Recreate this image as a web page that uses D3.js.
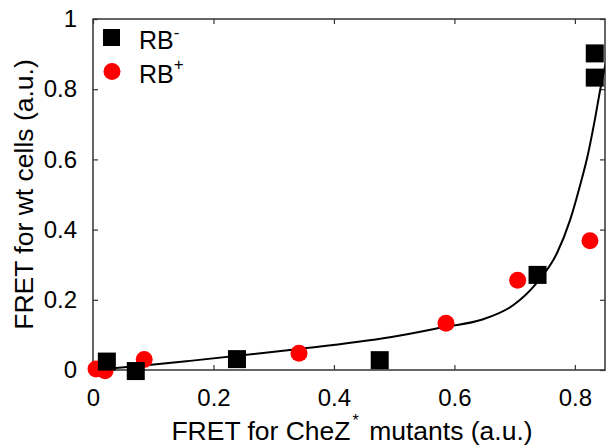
<!DOCTYPE html>
<html>
<head>
<meta charset="utf-8">
<script src="https://cdn.jsdelivr.net/npm/d3@7"></script>
<style>
  html, body { margin: 0; padding: 0; background: #fff; }
  svg { display: block; font-family: "Liberation Sans", Arial, sans-serif; }
</style>
</head>
<body>
<svg id="chart" width="606" height="446"></svg>
<script>
// RB- cells (black squares): FRET for CheZ* mutants vs FRET for wt cells
const rbMinusX = [0.023, 0.071, 0.239, 0.476, 0.738, 0.833, 0.833];
const rbMinusY = [0.024, -0.003, 0.031, 0.028, 0.271, 0.902, 0.833];

// RB+ cells (red circles)
const rbPlusX = [0.005, 0.020, 0.085, 0.342, 0.586, 0.705, 0.825];
const rbPlusY = [0.003, -0.002, 0.030, 0.048, 0.133, 0.256, 0.368];

// Fitted curve, sampled along its length
const fitX = [0.000, 0.080, 0.161, 0.327, 0.493, 0.585, 0.645, 0.698, 0.736, 0.770, 0.792, 0.808, 0.822, 0.833, 0.843, 0.852];
const fitY = [0.000, 0.012, 0.026, 0.057, 0.093, 0.123, 0.143, 0.185, 0.247, 0.332, 0.427, 0.522, 0.617, 0.712, 0.807, 0.880];

const xTicks = [0, 0.2, 0.4, 0.6, 0.8];
const yTicks = [0, 0.2, 0.4, 0.6, 0.8, 1];
const xTickLabels = ["0", "0.2", "0.4", "0.6", "0.8"];
const yTickLabels = ["0", "0.2", "0.4", "0.6", "0.8", "1"];

const margin = { left: 93, right: 1, top: 19, bottom: 76 };
const W = 606, H = 446;
const svg = d3.select("#chart");

const x = d3.scaleLinear().domain([0, 0.85]).range([margin.left, W - margin.right]);
const y = d3.scaleLinear().domain([0, 1]).range([H - margin.bottom, margin.top]);

const fontSize = 24;
const legendSize = 25;
const titleSize = 26.5;
const tickLen = 5;
const frameColor = "#333";

// clip region for the plot area
svg.append("defs").append("clipPath").attr("id", "plotClip")
  .append("rect")
  .attr("x", x(0)).attr("y", y(1))
  .attr("width", x(0.85) - x(0)).attr("height", y(0) - y(1));

// Axes: inward ticks on all four sides
const axisB = svg.append("g")
  .attr("transform", `translate(0,${y(0)})`)
  .call(d3.axisBottom(x).tickValues(xTicks)
    .tickFormat((d, i) => xTickLabels[i])
    .tickSizeInner(-tickLen).tickSizeOuter(0).tickPadding(19));
const axisT = svg.append("g")
  .attr("transform", `translate(0,${y(1)})`)
  .call(d3.axisTop(x).tickValues(xTicks).tickFormat("")
    .tickSizeInner(-tickLen).tickSizeOuter(0));
const axisL = svg.append("g")
  .attr("transform", `translate(${x(0)},0)`)
  .call(d3.axisLeft(y).tickValues(yTicks)
    .tickFormat((d, i) => yTickLabels[i])
    .tickSizeInner(-tickLen).tickSizeOuter(0).tickPadding(16));
const axisR = svg.append("g")
  .attr("transform", `translate(${x(0.85)},0)`)
  .call(d3.axisRight(y).tickValues(yTicks).tickFormat("")
    .tickSizeInner(-tickLen).tickSizeOuter(0));

[axisB, axisT, axisL, axisR].forEach(g => {
  g.select(".domain").remove();
  g.selectAll(".tick line").attr("stroke", frameColor).attr("stroke-width", 1.2);
  g.selectAll("text")
    .attr("font-family", '"Liberation Sans", Arial, sans-serif')
    .attr("font-size", fontSize).attr("fill", "#000");
});

// Plot frame
svg.append("rect")
  .attr("x", x(0)).attr("y", y(1))
  .attr("width", x(0.85) - x(0)).attr("height", y(0) - y(1))
  .attr("fill", "none").attr("stroke", frameColor).attr("stroke-width", 1.5);

// Fitted curve
const fitData = fitX.map((v, i) => [v, fitY[i]]);
svg.append("path")
  .datum(fitData)
  .attr("clip-path", "url(#plotClip)")
  .attr("fill", "none").attr("stroke", "#000").attr("stroke-width", 2)
  .attr("d", d3.line().x(d => x(d[0])).y(d => y(d[1])).curve(d3.curveMonotoneX));

// RB+ points
const plusData = rbPlusX.map((v, i) => [v, rbPlusY[i]]);
svg.append("g").selectAll("circle").data(plusData).join("circle")
  .attr("cx", d => x(d[0])).attr("cy", d => y(d[1]))
  .attr("r", 8.5).attr("fill", "#ff0000");

// RB- points
const sq = 18;
const minusData = rbMinusX.map((v, i) => [v, rbMinusY[i]]);
svg.append("g").selectAll("rect").data(minusData).join("rect")
  .attr("x", d => x(d[0]) - sq / 2).attr("y", d => y(d[1]) - sq / 2)
  .attr("width", sq).attr("height", sq).attr("fill", "#000");

// Legend
const legend = svg.append("g").attr("font-size", legendSize);
legend.append("rect").attr("x", 103).attr("y", 29).attr("width", 17).attr("height", 17).attr("fill", "#000");
legend.append("circle").attr("cx", 112).attr("cy", 71.5).attr("r", 8.5).attr("fill", "#ff0000");
const l1 = legend.append("text").attr("x", 139).attr("y", 48.5);
l1.append("tspan").text("RB");
l1.append("tspan").attr("font-size", 17).attr("dy", -11).text("-");
const l2 = legend.append("text").attr("x", 139).attr("y", 82.5);
l2.append("tspan").text("RB");
l2.append("tspan").attr("font-size", 17).attr("dy", -13).text("+");

// Axis titles
const xt = svg.append("text")
  .attr("x", (x(0) + x(0.85)) / 2 + 3).attr("y", 440)
  .attr("text-anchor", "middle").attr("font-size", titleSize);
xt.append("tspan").text("FRET for CheZ");
xt.append("tspan").attr("font-size", 16).attr("dx", 2).attr("dy", -14).text("*");
xt.append("tspan").attr("dx", 3).attr("dy", 14).text(" mutants (a.u.)");

svg.append("text")
  .attr("transform", `translate(33,${(y(0) + y(1)) / 2}) rotate(-90)`)
  .attr("text-anchor", "middle").attr("font-size", titleSize)
  .text("FRET for wt cells (a.u.)");
</script>
</body>
</html>
